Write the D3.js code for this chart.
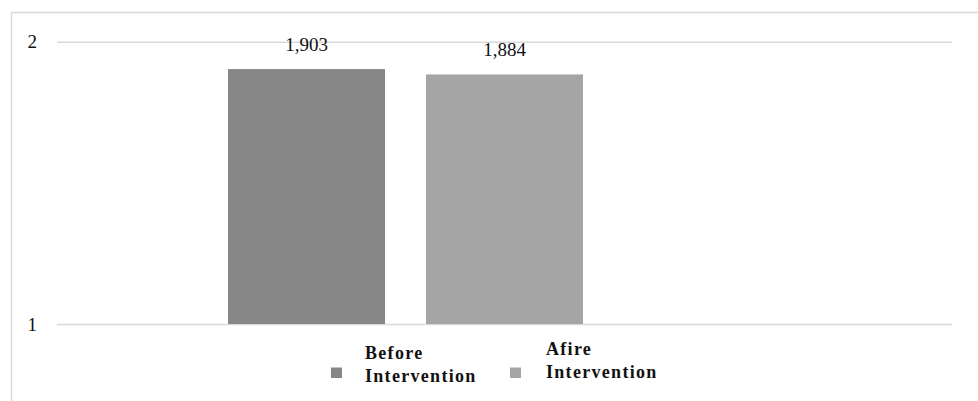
<!DOCTYPE html>
<html>
<head>
<meta charset="utf-8">
<script src="https://cdn.jsdelivr.net/npm/d3@7"></script>
<style>
  html, body { margin: 0; padding: 0; background: #fff; }
  svg { display: block; }
</style>
</head>
<body>
<svg id="chart" width="978" height="401"></svg>
<script>
// ---- data ----
const seriesNames = ["Before Intervention", "Afire Intervention", ""];
const seriesValues = [1.903, 1.884, null];
const valueLabels = ["1,903", "1,884", ""];
const legendLines = [["Before", "Intervention"], ["Afire", "Intervention"]];
const yTicks = [1, 2];
const colors = ["#878787", "#a5a5a5"];

const svg = d3.select("#chart");
const W = 978, H = 401;

// outer chart border
svg.append("rect")
  .attr("x", 11.5).attr("y", 12.5)
  .attr("width", W).attr("height", H)
  .attr("fill", "none").attr("stroke", "#d9d9d9").attr("stroke-width", 1.5);

const plot = { left: 57, right: 952, top: 41.7, bottom: 324 };

const y = d3.scaleLinear().domain([1, 2]).range([plot.bottom, plot.top]);
const x = d3.scaleBand()
  .domain(d3.range(seriesNames.length))
  .range([plot.left, plot.right])
  .paddingInner(0.2071)
  .paddingOuter(0.8637);

// gridlines + tick labels via axis
const yAxis = d3.axisLeft(y)
  .tickValues(yTicks)
  .tickFormat(d3.format("d"))
  .tickSize(-(plot.right - plot.left))
  .tickPadding(20);

const gAxis = svg.append("g")
  .attr("transform", `translate(${plot.left},0)`)
  .call(yAxis);
gAxis.select(".domain").remove();
gAxis.selectAll(".tick line")
  .attr("stroke", "#d9d9d9").attr("stroke-width", 1.5);
gAxis.selectAll(".tick text")
  .attr("fill", "#111")
  .attr("font-family", "'Liberation Serif', 'Times New Roman', serif")
  .attr("font-size", 19)
  .attr("dy", "0.32em");

// bars
const data = seriesValues.map((v, i) => ({ i, v, label: valueLabels[i] })).filter(d => d.v != null);

svg.append("g").selectAll("rect")
  .data(data).join("rect")
  .attr("x", d => x(d.i))
  .attr("width", x.bandwidth())
  .attr("y", d => y(d.v))
  .attr("height", d => y(1) - y(d.v))
  .attr("fill", d => colors[d.i]);

// value labels
svg.append("g").selectAll("text")
  .data(data).join("text")
  .attr("x", d => x(d.i) + x.bandwidth() / 2)
  .attr("y", d => y(d.v) - 18)
  .attr("text-anchor", "middle")
  .attr("font-family", "'Liberation Serif', 'Times New Roman', serif")
  .attr("font-size", 19)
  .attr("fill", "#111")
  .text(d => d.label);

// legend
const legendItems = [
  { sx: 331, sy: 367.5, tx: 365, ty: 359, lines: legendLines[0], color: colors[0] },
  { sx: 510, sy: 367.5, tx: 546, ty: 355, lines: legendLines[1], color: colors[1] }
];
const lg = svg.append("g");
legendItems.forEach(it => {
  lg.append("rect")
    .attr("x", it.sx).attr("y", it.sy)
    .attr("width", 11).attr("height", 10.5)
    .attr("fill", it.color);
  const t = lg.append("text")
    .attr("x", it.tx).attr("y", it.ty)
    .attr("font-family", "'Liberation Serif', 'Times New Roman', serif")
    .attr("font-weight", "bold")
    .attr("font-size", 18)
    .attr("letter-spacing", 1.3)
    .attr("fill", "#111");
  it.lines.forEach((ln, k) => {
    t.append("tspan")
      .attr("x", it.tx)
      .attr("dy", k === 0 ? 0 : 22.8)
      .text(ln);
  });
});
</script>
</body>
</html>
